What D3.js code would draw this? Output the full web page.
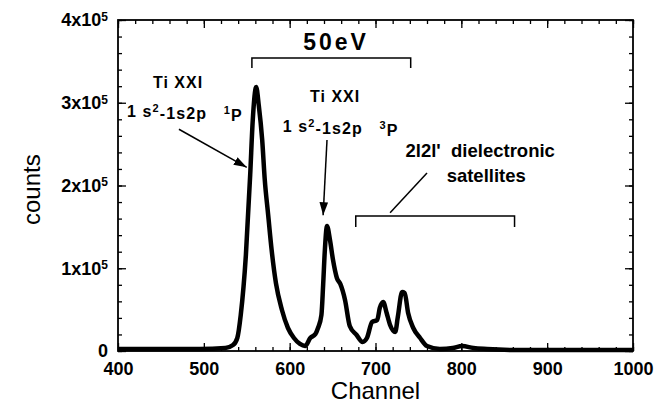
<!DOCTYPE html>
<html>
<head>
  <meta charset='utf-8'>
  <script src='https://d3js.org/d3.v7.min.js'></script>
  <style>
    body { margin: 0; background: #fff; }
    svg text { font-family: 'Liberation Sans', Arial, Helvetica, sans-serif; fill: #000; }
    .tick line { stroke: #000; stroke-width: 1.3; }
    .domain { display: none; }
  </style>
</head>
<body>
<script>
// spectrum
const channel = [400, 449, 495, 525, 534, 539, 543, 549, 554, 557, 561, 564, 568, 571, 575, 579, 584, 591, 598, 605, 612, 618, 624, 630, 633, 637, 639, 641, 643.5, 647, 650.5, 655, 659, 664.5, 670, 678, 685, 690, 696, 702, 705, 709, 713, 717, 723, 726, 731, 734, 738, 744, 752, 760, 775, 790, 801, 814, 830, 868, 1000];
const counts = [2400, 2400, 2400, 3600, 7200, 15700, 43500, 116000, 212700, 279000, 319000, 297000, 255000, 206700, 164000, 122000, 82000, 49500, 27800, 15700, 8500, 6000, 15700, 20500, 27800, 43500, 79800, 122000, 151000, 134000, 110000, 88200, 81000, 61600, 30200, 19300, 10900, 15700, 35000, 37500, 52000, 59200, 45900, 31400, 23000, 41100, 71300, 70100, 45900, 27800, 15700, 6000, 2400, 3600, 6000, 3600, 2400, 1200, 1200];

const xTicks = [400, 500, 600, 700, 800, 900, 1000];
const yTicks = [0, 1e5, 2e5, 3e5, 4e5];
const yTickLabels = ['0', '1x10', '2x10', '3x10', '4x10'];

const width = 669, height = 409;
const margin = {top: 20, right: 36, bottom: 58, left: 118};

const svg = d3.select('body').append('svg')
  .attr('width', width).attr('height', height);

const x = d3.scaleLinear().domain([400, 1000]).range([margin.left, width - margin.right]);
const y = d3.scaleLinear().domain([0, 4e5]).range([height - margin.bottom, margin.top]);

const minorX = d3.range(400, 1001, 20);
const minorY = d3.range(0, 400001, 20000);

// inward ticks on all four sides
svg.append('g').attr('transform', `translate(0,${y(0)})`)
  .call(d3.axisBottom(x).tickValues(minorX).tickSize(-4).tickFormat(''));
svg.append('g').attr('transform', `translate(0,${y(0)})`)
  .call(d3.axisBottom(x).tickValues(xTicks).tickSize(-8).tickPadding(11).tickFormat(d3.format('d')))
  .selectAll('text').style('font-size', '18px').style('font-weight', 'bold');
svg.append('g').attr('transform', `translate(0,${y(4e5)})`)
  .call(d3.axisTop(x).tickValues(minorX).tickSize(-4).tickFormat(''));
svg.append('g').attr('transform', `translate(0,${y(4e5)})`)
  .call(d3.axisTop(x).tickValues(xTicks).tickSize(-8).tickFormat(''));

svg.append('g').attr('transform', `translate(${x(400)},0)`)
  .call(d3.axisLeft(y).tickValues(minorY).tickSize(-4).tickFormat(''));
const yAxis = svg.append('g').attr('transform', `translate(${x(400)},0)`)
  .call(d3.axisLeft(y).tickValues(yTicks).tickSize(-8).tickPadding(10).tickFormat((d, i) => yTickLabels[i]));
yAxis.selectAll('text')
  .style('font-size', '18px').style('font-weight', 'bold')
  .each(function(d, i) {
    if (i === 0) return;
    d3.select(this).append('tspan').attr('dy', '-0.45em').style('font-size', '12px').text('5');
  });
svg.append('g').attr('transform', `translate(${x(1000)},0)`)
  .call(d3.axisRight(y).tickValues(minorY).tickSize(-4).tickFormat(''));
svg.append('g').attr('transform', `translate(${x(1000)},0)`)
  .call(d3.axisRight(y).tickValues(yTicks).tickSize(-8).tickFormat(''));

svg.append('rect')
  .attr('x', x(400)).attr('y', y(4e5))
  .attr('width', x(1000) - x(400)).attr('height', y(0) - y(4e5))
  .attr('fill', 'none').attr('stroke', '#000').attr('stroke-width', 1.8);

// spectrum
const line = d3.line()
  .x((d, i) => x(channel[i]))
  .y(d => y(d))
  .curve(d3.curveMonotoneX);

svg.append('path')
  .datum(counts)
  .attr('d', line)
  .attr('fill', 'none')
  .attr('stroke', '#000')
  .attr('stroke-width', 4.5)
  .attr('stroke-linejoin', 'round');

// axis titles
svg.append('text')
  .attr('x', x(700)).attr('y', 399)
  .attr('text-anchor', 'middle')
  .style('font-size', '24px')
  .text('Channel');
svg.append('text')
  .attr('transform', `translate(40,${y(1.95e5)}) rotate(-90)`)
  .attr('text-anchor', 'middle')
  .style('font-size', '24px')
  .text('counts');

// annotations
svg.append('defs').append('marker')
  .attr('id', 'arrow')
  .attr('viewBox', '0 0 12 8')
  .attr('refX', 12).attr('refY', 4)
  .attr('markerWidth', 13).attr('markerHeight', 9)
  .attr('markerUnits', 'userSpaceOnUse')
  .attr('orient', 'auto')
  .append('path').attr('d', 'M0,0 L12,4 L0,8 Z').attr('fill', '#000');

const bracket = (x1, x2, yTop, yEnd) => {
  svg.append('path')
    .attr('d', `M${x(x1)},${y(yEnd)} V${y(yTop)} H${x(x2)} V${y(yEnd)}`)
    .attr('fill', 'none').attr('stroke', '#000').attr('stroke-width', 1.5);
};
bracket(556, 741, 354000, 342000);
bracket(677, 862, 163000, 150000);

svg.append('text')
  .attr('x', x(654)).attr('y', y(364000))
  .attr('text-anchor', 'middle')
  .style('font-size', '23px').style('font-weight', 'bold')
  .style('letter-spacing', '3px')
  .text('50eV');

const label = (cx, line1y, startX, line2y, sup) => {
  svg.append('text')
    .attr('x', x(cx)).attr('y', y(line1y))
    .attr('text-anchor', 'middle')
    .style('font-size', '16px').style('font-weight', 'bold')
    .style('letter-spacing', '1px')
    .text('Ti XXI');
  const t = svg.append('text')
    .attr('x', x(startX)).attr('y', y(line2y))
    .style('font-size', '16px').style('font-weight', 'bold')
    .style('letter-spacing', '1.1px');
  t.append('tspan').text('1 s');
  t.append('tspan').attr('dy', '-0.45em').style('font-size', '11px').text('2');
  t.append('tspan').attr('dy', '0.45em').text('-1s2p\u00a0\u00a0\u00a0');
  t.append('tspan').attr('dy', '-0.45em').style('font-size', '11px').text(sup);
  t.append('tspan').attr('dy', '0.45em').text('P');
};
label(470, 318000, 410.5, 283000, '1');
label(653, 301000, 592, 265000, '3');

const pointer = (x1, y1, x2, y2, head) => {
  const p = svg.append('line')
    .attr('x1', x(x1)).attr('y1', y(y1))
    .attr('x2', x(x2)).attr('y2', y(y2))
    .attr('stroke', '#000').attr('stroke-width', 1.5);
  if (head) p.attr('marker-end', 'url(#arrow)');
};
pointer(471, 268000, 550, 222000, true);
pointer(643.5, 255000, 639, 164000, true);
pointer(760, 215000, 717, 167000, false);

svg.append('text')
  .attr('x', x(822)).attr('y', y(234000))
  .attr('text-anchor', 'middle')
  .style('font-size', '18.5px').style('font-weight', 'bold')
  .text('2l2l\'\u00a0\u00a0dielectronic');
svg.append('text')
  .attr('x', x(829)).attr('y', y(204000))
  .attr('text-anchor', 'middle')
  .style('font-size', '18.5px').style('font-weight', 'bold')
  .text('satellites');
</script>
</body>
</html>
